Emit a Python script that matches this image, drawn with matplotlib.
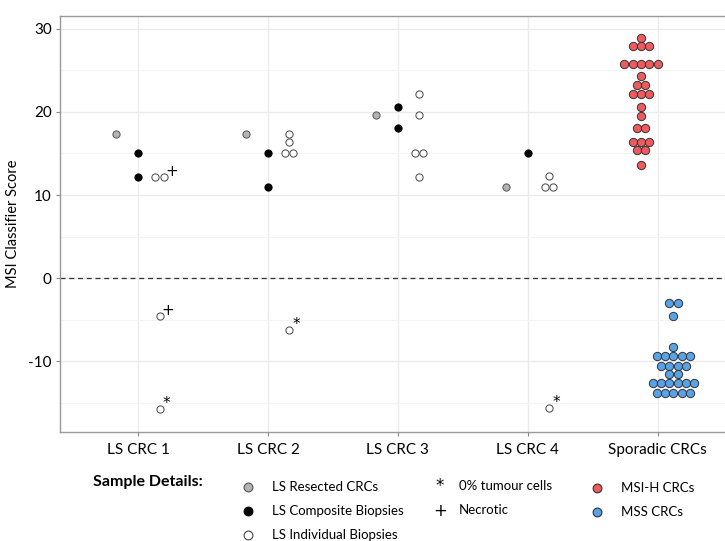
import numpy as np
import matplotlib.pyplot as plt

plt.rcParams['font.family'] = ['Lato', 'DejaVu Sans']
plt.rcParams['axes.unicode_minus'] = False

categories = ['LS CRC 1', 'LS CRC 2', 'LS CRC 3', 'LS CRC 4', 'Sporadic CRCs']

# LS samples, one entry per LS CRC
resected = [17.4, 17.4, 19.6, 11.0]
composite = [[15.1, 12.2], [15.1, 11.0], [20.6, 18.1], [15.1]]
individual = [[12.2, 12.2, -4.5, -15.7],
              [17.4, 16.35, 15.1, 15.1, -6.25],
              [22.15, 19.6, 15.1, 15.1, 12.2],
              [12.25, 11.0, 11.0, -15.6]]
# '+' = necrotic, '*' = 0% tumour cells
individual_flags = [['', '+', '+', '*'],
                    ['', '', '', '', '*'],
                    ['', '', '', '', ''],
                    ['', '', '', '*']]

# sporadic CRCs
msi_h = [28.85, 27.9, 27.9, 27.9, 25.75, 25.75, 25.75, 25.75, 25.75,
         24.3, 23.2, 23.2, 22.2, 22.2, 22.2, 20.55, 19.55, 18.1, 18.1,
         16.4, 16.4, 16.4, 15.4, 15.4, 13.6]
mss = [-2.93, -2.93, -4.5, -8.26, -9.38, -9.38, -9.38, -9.38, -9.38,
       -10.5, -10.5, -10.5, -10.5, -11.47, -11.47,
       -12.6, -12.6, -12.6, -12.6, -12.6, -12.6,
       -13.8, -13.8, -13.8, -13.8, -13.8]

RED = '#EC5B5E'
BLUE = '#58A2E6'
GREY = '#B3B3B3'


def spread(values, step):
    # put tied values side by side, centred on the group position
    vals = np.asarray(values)
    offs = np.zeros(len(vals))
    for v in np.unique(vals):
        idx = np.where(vals == v)[0]
        offs[idx] = (np.arange(len(idx)) - (len(idx) - 1) / 2) * step
    return offs


fig = plt.figure(figsize=(7.25, 5.41), dpi=100)
ax = fig.add_axes([60 / 725, 1 - 431.7 / 541, 665 / 725, (431.7 - 15.7) / 541])

ax.set_xlim(-0.603, 4.52)
ax.set_ylim(-18.44, 31.56)
ax.set_yticks([-10, 0, 10, 20, 30])
ax.set_yticks([-15, -5, 5, 15, 25], minor=True)
ax.set_xticks(range(len(categories)))
ax.set_xticklabels(categories)
ax.set_axisbelow(True)
ax.grid(True, which='major', color='#EBEBEB', lw=1.0)
ax.grid(True, which='minor', axis='y', color='#F3F3F3', lw=0.8)
ax.tick_params(which='minor', length=0)
ax.tick_params(which='major', length=3, color='#888888', labelsize=11, pad=3)
ax.tick_params(axis='x', labelsize=11, pad=5)
for s in ['left', 'bottom', 'top']:
    ax.spines[s].set_color('#999999')
    ax.spines[s].set_linewidth(1.0)
ax.spines['right'].set_visible(False)
ax.set_ylabel('MSI Classifier Score', fontsize=10.5, labelpad=6)
ax.axhline(0, color='#333333', lw=0.9, ls=(0, (4, 3)), zorder=2)

ls_size = 27
step = 0.063
for i in range(4):
    ax.scatter([i - 0.169], [resected[i]], s=ls_size, c=GREY, edgecolors='#555555',
               linewidths=0.7, zorder=3)
    ax.scatter(np.full(len(composite[i]), i), composite[i], s=ls_size, c='black',
               edgecolors='black', linewidths=0.7, zorder=3)
    xs = i + 0.164 + spread(individual[i], step)
    ax.scatter(xs, individual[i], s=ls_size, c='white', edgecolors='#444444',
               linewidths=0.7, zorder=3)
    for x, y, f in zip(xs, individual[i], individual_flags[i]):
        if f == '+':
            ax.annotate('+', (x, y), xytext=(6, 4), textcoords='offset points',
                        ha='center', va='center', fontsize=11, family='DejaVu Sans')
        elif f == '*':
            ax.annotate('*', (x, y), xytext=(5, 4), textcoords='offset points',
                        ha='center', va='center', fontsize=11, family='DejaVu Sans')

sp_size = 36
sp_step = 0.064
ax.scatter(4 - 0.128 + spread(msi_h, sp_step), msi_h, s=sp_size, c=RED,
           edgecolors='#333333', linewidths=0.7, zorder=3)
ax.scatter(4 + 0.123 + spread(mss, sp_step), mss, s=sp_size, c=BLUE,
           edgecolors='#333333', linewidths=0.7, zorder=3)

# legend drawn below the plot in pixel coordinates
lg = fig.add_axes([0, 0, 1, 1], zorder=5)
lg.set_xlim(0, 725)
lg.set_ylim(541, 0)
lg.axis('off')
lg.text(93, 482, 'Sample Details:', fontsize=11.5, fontweight='bold', va='center')

marker_items = [(248.5, 487, GREY, '#555555', 'LS Resected CRCs'),
                (248.5, 511, 'black', 'black', 'LS Composite Biopsies'),
                (248.5, 535, 'white', '#444444', 'LS Individual Biopsies'),
                (597.5, 487.5, RED, '#333333', 'MSI-H CRCs'),
                (597.5, 512, BLUE, '#333333', 'MSS CRCs')]
for x, y, fc, ec, label in marker_items:
    lg.scatter([x], [y], s=40, c=fc, edgecolors=ec, linewidths=0.8)
    lg.text(x + 24, y, label, fontsize=9.5, va='center')

lg.text(440, 486, '*', fontsize=12, ha='center', va='center', family='DejaVu Sans')
lg.text(459, 486, '0% tumour cells', fontsize=9.5, va='center')
lg.text(440, 511, '+', fontsize=12, ha='center', va='center', family='DejaVu Sans')
lg.text(459, 510, 'Necrotic', fontsize=9.5, va='center')

fig.savefig('out.png', dpi=100)
